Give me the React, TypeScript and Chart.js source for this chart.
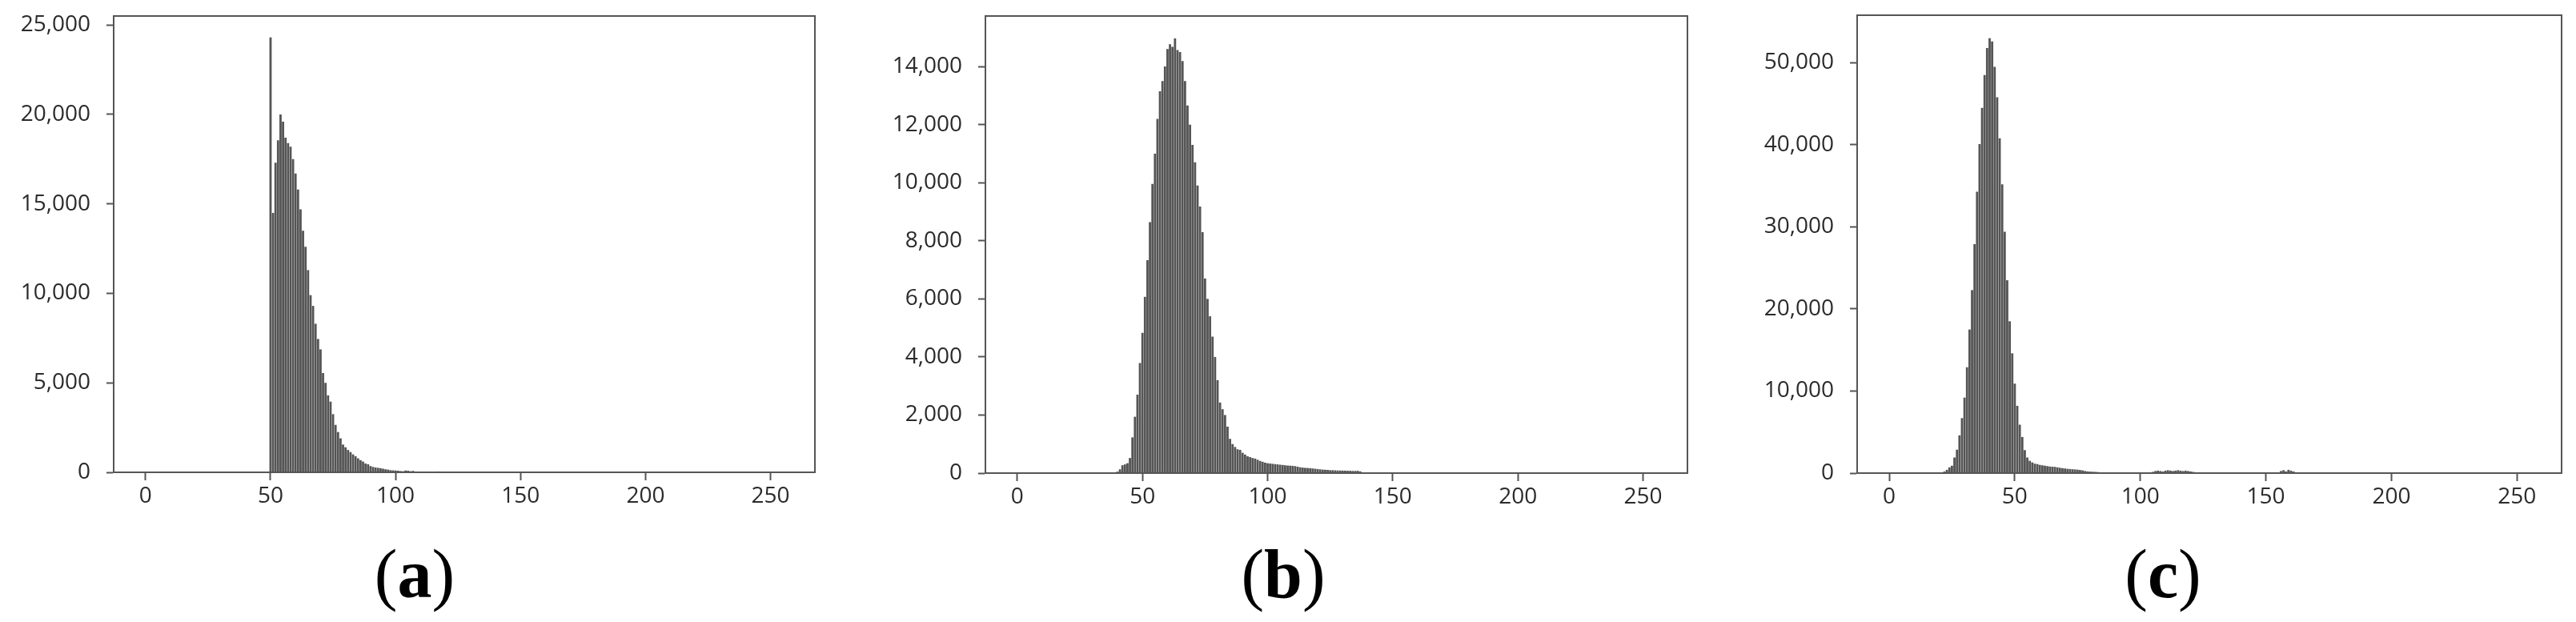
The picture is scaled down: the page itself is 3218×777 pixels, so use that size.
import React, { useEffect, useRef } from "react";
import { Chart, registerables } from "chart.js";

Chart.register(...registerables);

// ---------- data ----------
const xTicks = [0, 50, 100, 150, 200, 250];
const xMin = -12.75;
const xMax = 267.75;

const yTicksA = [0, 5000, 10000, 15000, 20000, 25000];
const yTicksB = [0, 2000, 4000, 6000, 8000, 10000, 12000, 14000];
const yTicksC = [0, 10000, 20000, 30000, 40000, 50000];

const yMaxA = 25500;
const yMaxB = 15740;
const yMaxC = 55800;

// Panel (a): counts starting at bin 50
const startA = 50;
const countsA = [
  24300, 14500, 17300, 18550, 20000, 19600, 18700, 18400, 18200, 17500,
  16700, 15800, 14700, 13500, 12600, 11300, 9900, 9300, 8300, 7450,
  6870, 5550, 5000, 4300, 3950, 3250, 2650, 2250, 1900, 1550,
  1400, 1250, 1130, 1000, 900, 780, 680, 600, 490, 450,
  350, 300, 270, 250, 230, 200, 170, 150, 120, 110,
  100, 90, 70, 60, 100, 90, 60, 80, 40, 0,
  0, 0, 0, 0, 0, 0, 0, 50,
];

// Panel (b): counts starting at bin 40
const startB = 40;
const countsB = [
  50, 130, 270, 300, 340, 520, 1230, 1940, 2700, 3790,
  4830, 6070, 7330, 8640, 9960, 11000, 12200, 13150, 13500, 14000,
  14600, 14770, 14680, 14970, 14570, 14500, 14190, 13500, 12660, 12000,
  11300, 10700, 9900, 9180, 8300, 6700, 6000, 5400, 4700, 4000,
  3200, 2430, 2200, 2000, 1600, 1180, 1000, 900, 820, 800,
  700, 640, 580, 550, 520, 500, 460, 420, 390, 360,
  340, 330, 320, 310, 300, 290, 280, 270, 260, 255,
  250, 240, 220, 200, 190, 180, 175, 170, 160, 150,
  140, 130, 120, 115, 110, 100, 100, 95, 90, 90,
  85, 85, 80, 80, 75, 75, 80, 60,
];

// Panel (c): main peak starting at bin 21, plus two small clusters
const startC = 21;
const countsC = [
  100, 200, 400, 700, 900, 1900, 2850, 4600, 6700, 9200,
  12900, 17500, 22300, 27900, 34300, 40100, 44500, 48500, 51800, 53000,
  52600, 49500, 45800, 40800, 35200, 29400, 23500, 18500, 14600, 10900,
  8200, 5900, 4400, 2800, 1900, 1500, 1300, 1150, 1100, 1000,
  950, 900, 850, 800, 780, 760, 700, 650, 600, 560,
  520, 500, 470, 450, 420, 380, 330, 260, 210, 190,
  170, 150, 130, 100, 60,
];
const startC2 = 105;
const countsC2 = [150, 250, 300, 250, 200, 300, 350, 300, 250, 300, 350, 300, 250, 300, 250, 200, 150];
const startC3 = 156;
const countsC3 = [250, 350, 200, 400, 300, 200];

const captions = ["a", "b", "c"];

// ---------- styles ----------
const BAR_COLOR = "#555555";
const AXIS_COLOR = "#555555";
const TEXT_COLOR = "#2b2b2b";
const TICK_FONT = { family: "'Open Sans', 'Noto Sans', sans-serif", size: 28 };
const CANVAS_H = 660;

const toPoints = (start: number, counts: number[]) =>
  counts.map((v, i) => ({ x: start + i, y: v }));

const framePlugin = {
  id: "frame",
  afterDatasetsDraw(chart: any) {
    const { ctx, chartArea } = chart;
    ctx.save();
    ctx.strokeStyle = AXIS_COLOR;
    ctx.lineWidth = 2;
    ctx.strokeRect(
      chartArea.left,
      chartArea.top,
      chartArea.right - chartArea.left,
      chartArea.bottom - chartArea.top
    );
    ctx.restore();
  },
};

function buildConfig(
  points: { x: number; y: number }[],
  yMax: number,
  yTicks: number[],
  yAxisWidth: number,
  rightPad: number,
  bottomY: number,
  topY: number
): any {
  return {
    type: "bar",
    data: {
      datasets: [
        {
          data: points,
          backgroundColor: BAR_COLOR,
          borderWidth: 0,
          barPercentage: 0.9,
          categoryPercentage: 1.0,
        },
      ],
    },
    options: {
      animation: false,
      responsive: false,
      maintainAspectRatio: false,
      layout: { padding: { top: topY, right: rightPad, left: 0, bottom: 0 } },
      plugins: {
        legend: { display: false },
        tooltip: { enabled: false },
        title: { display: false },
      },
      scales: {
        x: {
          type: "linear",
          min: xMin,
          max: xMax,
          offset: false,
          afterBuildTicks: (s: any) => {
            s.ticks = xTicks.map((v) => ({ value: v }));
          },
          afterFit: (s: any) => {
            s.height = CANVAS_H - bottomY;
            s.paddingLeft = 0;
            s.paddingRight = 0;
          },
          ticks: {
            font: TICK_FONT,
            color: TEXT_COLOR,
            padding: 3,
            maxRotation: 0,
            autoSkip: false,
            callback: (v: any) => String(v),
          },
          grid: {
            offset: false,
            drawOnChartArea: false,
            drawTicks: true,
            tickLength: 10,
            tickColor: AXIS_COLOR,
            tickWidth: 2,
          },
          border: { display: true, color: AXIS_COLOR, width: 2 },
        },
        y: {
          type: "linear",
          min: 0,
          max: yMax,
          afterBuildTicks: (s: any) => {
            s.ticks = yTicks.map((v) => ({ value: v }));
          },
          afterFit: (s: any) => {
            s.width = yAxisWidth;
            s.paddingTop = 0;
            s.paddingBottom = 0;
          },
          ticks: {
            font: TICK_FONT,
            color: TEXT_COLOR,
            padding: 20,
            autoSkip: false,
            callback: (v: any) => Number(v).toLocaleString("en-US"),
          },
          grid: {
            drawOnChartArea: false,
            drawTicks: true,
            tickLength: 9,
            tickColor: AXIS_COLOR,
            tickWidth: 2,
          },
          border: { display: true, color: AXIS_COLOR, width: 2 },
        },
      },
    },
    plugins: [framePlugin],
  };
}

const panels = [
  { left: 0, width: 1040, yAxisWidth: 142, rightPad: 22, bottomY: 590, topY: 20, capCenter: 518 },
  { left: 1040, width: 1090, yAxisWidth: 191, rightPad: 22, bottomY: 591, topY: 20, capCenter: 1603 },
  { left: 2130, width: 1088, yAxisWidth: 190, rightPad: 18, bottomY: 591, topY: 19, capCenter: 2702 },
];

export default function App() {
  const refA = useRef<HTMLCanvasElement>(null);
  const refB = useRef<HTMLCanvasElement>(null);
  const refC = useRef<HTMLCanvasElement>(null);

  useEffect(() => {
    const pA = panels[0], pB = panels[1], pC = panels[2];
    const charts: Chart[] = [];
    if (refA.current)
      charts.push(
        new Chart(
          refA.current,
          buildConfig(toPoints(startA, countsA), yMaxA, yTicksA, pA.yAxisWidth, pA.rightPad, pA.bottomY, pA.topY)
        )
      );
    if (refB.current)
      charts.push(
        new Chart(
          refB.current,
          buildConfig(toPoints(startB, countsB), yMaxB, yTicksB, pB.yAxisWidth, pB.rightPad, pB.bottomY, pB.topY)
        )
      );
    if (refC.current)
      charts.push(
        new Chart(
          refC.current,
          buildConfig(
            [...toPoints(startC, countsC), ...toPoints(startC2, countsC2), ...toPoints(startC3, countsC3)],
            yMaxC,
            yTicksC,
            pC.yAxisWidth,
            pC.rightPad,
            pC.bottomY,
            pC.topY
          )
        )
      );
    return () => charts.forEach((c) => c.destroy());
  }, []);

  const refs = [refA, refB, refC];

  return (
    <div style={{ position: "absolute", left: 0, top: 0, width: 3218, height: 777, background: "#fff" }}>
      {panels.map((p, i) => (
        <React.Fragment key={i}>
          <canvas
            ref={refs[i]}
            width={p.width}
            height={CANVAS_H}
            style={{ position: "absolute", left: p.left, top: 0, width: p.width, height: CANVAS_H }}
          />
          <div
            style={{
              position: "absolute",
              left: p.capCenter - 100,
              top: 674,
              width: 200,
              textAlign: "center",
              fontFamily: "'Liberation Serif', 'Times New Roman', serif",
              fontSize: 86,
              lineHeight: 1,
              color: "#000",
            }}
          >
            (<b>{captions[i]}</b>)
          </div>
        </React.Fragment>
      ))}
    </div>
  );
}
